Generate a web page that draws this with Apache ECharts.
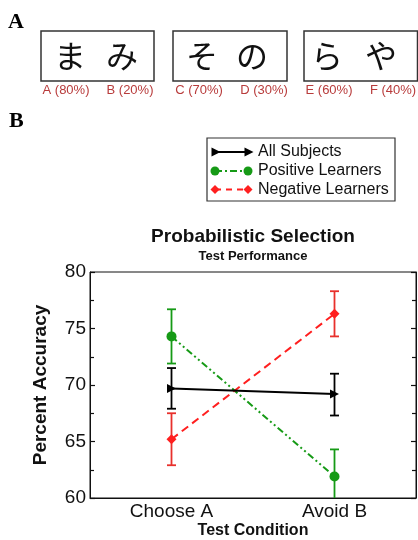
<!DOCTYPE html>
<html><head><meta charset="utf-8">
<script src="https://cdn.jsdelivr.net/npm/echarts/dist/echarts.min.js"></script>
<style>html,body{margin:0;padding:0;background:#fff}#c{width:418px;height:540px}</style>
</head><body><div id="c"></div><script>
const categories = ['Choose A', 'Avoid B'];
const allMean = [69.7, 69.2];
const allLow = [67.9, 67.3];
const allHigh = [71.5, 71.0];
const posMean = [74.3, 61.9];
const posLow = [71.9, 59.5];
const posHigh = [76.7, 64.3];
const negMean = [65.2, 76.3];
const negLow = [62.9, 74.3];
const negHigh = [67.5, 78.3];
const yMin = 60, yMax = 80, yStep = 5;
const seriesNames = ['All Subjects', 'Positive Learners', 'Negative Learners'];
const stimuli = ['ま', 'み', 'そ', 'の', 'ら', 'や'];
const stimLabels = ['A (80%)', 'B (20%)', 'C (70%)', 'D (30%)', 'E (60%)', 'F (40%)'];

const SANS = '"Liberation Sans", Arial, sans-serif';
const GREEN = '#169a16', RED = '#ff1f1f', REDBAR = '#e8302c', BLACK = '#000';

function errSeries(low, high, color) {
  return {
    type: 'custom', clip: true, z: 3, silent: true,
    data: low.map((l, i) => [i, l, high[i]]),
    renderItem(params, api) {
      const p1 = api.coord([api.value(0), api.value(1)]);
      const p2 = api.coord([api.value(0), api.value(2)]);
      const w = 4.5;
      const st = { stroke: color, lineWidth: 1.8 };
      return { type: 'group', children: [
        { type: 'line', shape: { x1: p1[0], y1: p1[1], x2: p2[0], y2: p2[1] }, style: st },
        { type: 'line', shape: { x1: p1[0] - w, y1: p1[1], x2: p1[0] + w, y2: p1[1] }, style: st },
        { type: 'line', shape: { x1: p2[0] - w, y1: p2[1], x2: p2[0] + w, y2: p2[1] }, style: st }
      ] };
    }
  };
}

// Panel A graphics
const boxes = [[41, 31, 113, 50], [173, 31, 114, 50], [304, 31, 113.5, 50]];
const charX = [70, 122, 202, 252, 327, 381];
const labX = [66, 130, 199, 264, 329, 393];
const graphics = [];
graphics.push({ type: 'text', left: 8, top: 11, style: { text: 'A', font: 'bold 22px "Liberation Serif", serif', fill: '#000' } });
graphics.push({ type: 'text', left: 9, top: 110, style: { text: 'B', font: 'bold 22px "Liberation Serif", serif', fill: '#000' } });
boxes.forEach(b => graphics.push({ type: 'rect', shape: { x: b[0], y: b[1], width: b[2], height: b[3] }, style: { fill: 'none', stroke: '#333', lineWidth: 1.5 } }));
stimuli.forEach((s, i) => graphics.push({ type: 'text', x: charX[i], y: 56, style: { text: s, font: '32px "Noto Sans CJK JP"', fill: '#111', textAlign: 'center', textVerticalAlign: 'middle' } }));
stimLabels.forEach((s, i) => graphics.push({ type: 'text', x: labX[i], y: 90, style: { text: s, font: '13px ' + SANS, fill: '#b83b3b', textAlign: 'center', textVerticalAlign: 'middle' } }));

// Legend
graphics.push({ type: 'rect', shape: { x: 207, y: 138, width: 188, height: 63 }, style: { fill: '#fff', stroke: '#333', lineWidth: 1.2 } });
const legY = [152, 171, 189.5];
function tri(cx, cy, s) { return { type: 'polygon', shape: { points: [[cx - s, cy - s], [cx + s, cy], [cx - s, cy + s]] }, style: { fill: BLACK } }; }
function dia(cx, cy, s) { return { type: 'polygon', shape: { points: [[cx, cy - s], [cx + s, cy], [cx, cy + s], [cx - s, cy]] }, style: { fill: RED } }; }
graphics.push({ type: 'line', shape: { x1: 213, y1: legY[0], x2: 249, y2: legY[0] }, style: { stroke: BLACK, lineWidth: 2 } });
graphics.push(tri(216, legY[0], 4.5), tri(249, legY[0], 4.5));
graphics.push({ type: 'line', shape: { x1: 215, y1: legY[1], x2: 248, y2: legY[1] }, style: { stroke: GREEN, lineWidth: 2, lineDash: [7, 3, 2, 3] } });
graphics.push({ type: 'circle', shape: { cx: 215, cy: legY[1], r: 4.5 }, style: { fill: GREEN } });
graphics.push({ type: 'circle', shape: { cx: 248, cy: legY[1], r: 4.5 }, style: { fill: GREEN } });
graphics.push({ type: 'line', shape: { x1: 215, y1: legY[2], x2: 248, y2: legY[2] }, style: { stroke: RED, lineWidth: 2, lineDash: [6, 5] } });
graphics.push(dia(215, legY[2], 4.5), dia(248, legY[2], 4.5));
seriesNames.forEach((n, i) => graphics.push({ type: 'text', x: 258, y: legY[i], style: { text: n, font: '16px ' + SANS, fill: '#111', textVerticalAlign: 'middle' } }));

// Titles
graphics.push({ type: 'text', x: 253, y: 237, style: { text: 'Probabilistic Selection', font: 'bold 19px ' + SANS, fill: '#111', textAlign: 'center', textVerticalAlign: 'middle' } });
graphics.push({ type: 'text', x: 253, y: 256, style: { text: 'Test Performance', font: 'bold 13px ' + SANS, fill: '#111', textAlign: 'center', textVerticalAlign: 'middle' } });

const yAxisBase = {
  type: 'value', min: yMin, max: yMax, interval: yStep,
  axisLine: { show: true, lineStyle: { color: '#111', width: 1 } },
  axisTick: { show: true, inside: true, length: 5, lineStyle: { color: '#111', width: 1.2 } },
  minorTick: { show: true, splitNumber: 2, length: 4, lineStyle: { color: '#111', width: 1.2 } },
  splitLine: { show: false }, minorSplitLine: { show: false }
};

const chart = echarts.init(document.getElementById('c'));
chart.setOption({
  animation: false,
  grid: { left: 90, right: 2, top: 272, bottom: 42, show: true, borderColor: '#111', borderWidth: 1, backgroundColor: 'transparent' },
  xAxis: {
    type: 'category', data: categories, boundaryGap: true,
    axisLine: { show: true, lineStyle: { color: '#111' } }, axisTick: { show: false },
    axisLabel: { fontSize: 19, color: '#111', fontFamily: SANS, margin: 4 },
    name: 'Test Condition', nameLocation: 'middle', nameGap: 25,
    nameTextStyle: { fontSize: 16, fontWeight: 'bold', color: '#111', fontFamily: SANS }
  },
  yAxis: [
    Object.assign({}, yAxisBase, {
      position: 'left',
      axisLabel: { fontSize: 19, color: '#111', fontFamily: SANS, margin: 4 },
      name: 'Percent Accuracy', nameLocation: 'middle', nameGap: 40, nameRotate: 90,
      nameTextStyle: { fontSize: 19, fontWeight: 'bold', color: '#111', fontFamily: SANS }
    }),
    Object.assign({}, yAxisBase, { position: 'right', axisLabel: { show: false } })
  ],
  graphic: graphics,
  series: [
    errSeries(allLow, allHigh, BLACK),
    errSeries(posLow, posHigh, GREEN),
    errSeries(negLow, negHigh, REDBAR),
    { type: 'line', name: seriesNames[1], data: posMean, symbol: 'circle', symbolSize: 10, z: 4,
      lineStyle: { color: GREEN, width: 2, type: [7, 3, 2, 3, 2, 3] }, itemStyle: { color: GREEN } },
    { type: 'line', name: seriesNames[2], data: negMean, symbol: 'diamond', symbolSize: 10, z: 4,
      lineStyle: { color: RED, width: 2, type: [8, 5] }, itemStyle: { color: RED } },
    { type: 'line', name: seriesNames[0], data: allMean, symbol: 'triangle', symbolRotate: -90, symbolSize: 9, z: 5,
      lineStyle: { color: BLACK, width: 2 }, itemStyle: { color: BLACK } }
  ]
});
</script></body></html>
